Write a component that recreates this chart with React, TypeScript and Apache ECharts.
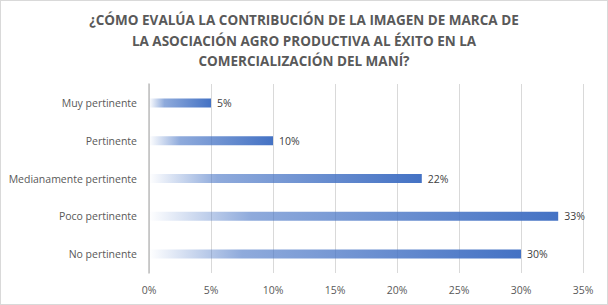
import React, { useEffect, useRef } from "react";
import * as echarts from "echarts";

const titleText =
  "¿CÓMO EVALÚA LA CONTRIBUCIÓN DE LA IMAGEN DE MARCA DE\nLA ASOCIACIÓN AGRO PRODUCTIVA AL ÉXITO EN LA\nCOMERCIALIZACIÓN DEL MANÍ?";
const categories = [
  "No pertinente",
  "Poco pertinente",
  "Medianamente pertinente",
  "Pertinente",
  "Muy pertinente",
];
const values = [30, 33, 22, 10, 5];
const axisMax = 35;
const axisInterval = 5;

export default function App() {
  const ref = useRef<HTMLDivElement>(null);
  useEffect(() => {
    if (!ref.current) return;
    const chart = echarts.init(ref.current, null, { renderer: "svg" });
    const font = "'Open Sans', 'Noto Sans', sans-serif";
    chart.setOption({
      animation: false,
      backgroundColor: "#ffffff",
      textStyle: { fontFamily: font },
      title: {
        text: titleText,
        left: "center",
        top: 4,
        textStyle: {
          fontFamily: font,
          fontSize: 13.5,
          fontWeight: "bold",
          color: "#595959",
          lineHeight: 20.5,
        },
      },
      grid: { left: 148, right: 24, top: 83, bottom: 31 },
      xAxis: {
        type: "value",
        min: 0,
        max: axisMax,
        interval: axisInterval,
        axisLabel: {
          formatter: (v: number) => v + "%",
          color: "#595959",
          fontSize: 10.5,
          margin: 11,
        },
        splitLine: { lineStyle: { color: "#d9d9d9", width: 1 } },
        axisLine: { show: false },
        axisTick: { show: false },
      },
      yAxis: {
        type: "category",
        data: categories,
        axisLabel: { color: "#595959", fontSize: 10.5, margin: 12 },
        axisLine: { show: true, lineStyle: { color: "#bfbfbf", width: 1.5 } },
        axisTick: { show: false },
      },
      series: [
        {
          type: "bar",
          data: values,
          barWidth: 9,
          itemStyle: {
            color: new echarts.graphic.LinearGradient(0, 0, 1, 0, [
              { offset: 0, color: "rgba(68,114,196,0)" },
              { offset: 0.25, color: "rgba(68,114,196,0.6)" },
              { offset: 1, color: "rgba(68,114,196,1)" },
            ]),
          },
          label: {
            show: true,
            position: "right",
            formatter: (p: any) => p.value + "%",
            color: "#404040",
            fontSize: 10.5,
            distance: 6,
          },
        },
      ],
    });
    return () => chart.dispose();
  }, []);
  return (
    <div
      ref={ref}
      style={{
        position: "absolute",
        left: 0,
        top: 0,
        width: 608,
        height: 305,
        border: "1px solid #d9d9d9",
        boxSizing: "border-box",
      }}
    />
  );
}
